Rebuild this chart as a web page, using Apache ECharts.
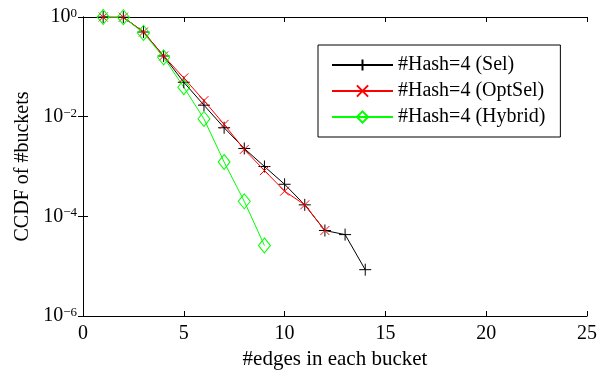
<!DOCTYPE html>
<html><head><meta charset="utf-8">
<script src="https://cdn.jsdelivr.net/npm/echarts@6/dist/echarts.min.js"></script>
<style>html,body{margin:0;padding:0;background:#fff}#c{width:600px;height:375px}</style>
</head><body><div id="c"></div>
<script>
const seriesNames = ['#Hash=4 (Sel)', '#Hash=4 (OptSel)', '#Hash=4 (Hybrid)'];
const xSel = [1,2,3,4,5,6,7,8,9,10,11,12,13,14];
const ySel = [1,0.99,0.5,0.165,0.049,0.017,0.006,0.0023,0.001,0.00044,0.00017,5.2e-5,4.3e-5,8.5e-6];
const xOpt = [1,2,3,4,5,6,7,8,9,10,11,12];
const yOpt = [1,0.99,0.5,0.165,0.06,0.021,0.007,0.0022,0.00083,0.00032,0.00017,5.2e-5];
const xHyb = [1,2,3,4,5,6,7,8,9];
const yHyb = [1,0.99,0.48,0.155,0.039,0.009,0.00123,0.0002,2.6e-5];
const xTicks = [0,5,10,15,20,25];
const yTicks = [1e-6,1e-4,1e-2,1];

const FONT = 'Liberation Serif';
const pair = (xs, ys) => xs.map((x, i) => [x, ys[i]]);
const PLUS = 'path://M0,5L10,5M5,0L5,10';
const CROSS = 'path://M0,0L10,10M10,0L0,10';

const chart = echarts.init(document.getElementById('c'));
const axisCommon = {
  axisLine: {show: true, lineStyle: {color: '#000', width: 1}},
  axisTick: {show: true, inside: true, length: 5, lineStyle: {color: '#000'}},
  splitLine: {show: false}
};
chart.setOption({
  animation: false,
  backgroundColor: '#fff',
  grid: {left: 83, right: 9, top: 17, bottom: 55, containLabel: false},
  legend: {
    orient: 'vertical', left: 318, top: 45,
    padding: [10, 15, 10, 13],
    borderColor: '#000', borderWidth: 1, backgroundColor: '#fff',
    itemWidth: 61, itemHeight: 14, itemGap: 6,
    selectedMode: false,
    textStyle: {fontFamily: FONT, fontSize: 20, color: '#000', lineHeight: 20},
    data: seriesNames
  },
  xAxis: [
    Object.assign({}, axisCommon, {
      type: 'value', min: 0, max: 25, interval: 5, position: 'bottom',
      name: '#edges in each bucket', nameLocation: 'middle', nameGap: 33,
      nameTextStyle: {fontFamily: FONT, fontSize: 21, color: '#000'},
      axisLabel: {fontFamily: FONT, fontSize: 20, color: '#000', margin: 8,
        formatter: v => xTicks.includes(v) ? String(v) : ''}
    }),
    Object.assign({}, axisCommon, {
      type: 'value', min: 0, max: 25, interval: 5, position: 'top',
      axisLabel: {show: false}
    })
  ],
  yAxis: [
    Object.assign({}, axisCommon, {
      type: 'log', logBase: 100, min: yTicks[0], max: yTicks[yTicks.length - 1], position: 'left',
      name: 'CCDF of #buckets', nameLocation: 'middle', nameGap: 50,
      nameTextStyle: {fontFamily: FONT, fontSize: 20, color: '#000'},
      axisLabel: {
        margin: 6, color: '#000',
        formatter: v => {
          const e = Math.round(Math.log10(v));
          return '{b|10}{s|' + (e < 0 ? '\u2212' + (-e) : e) + '}';
        },
        rich: {
          b: {fontFamily: FONT, fontSize: 20, lineHeight: 20, color: '#000', verticalAlign: 'middle', padding: [5, 0, 5, 0]},
          s: {fontFamily: FONT, fontSize: 13, lineHeight: 13, color: '#000', verticalAlign: 'top'}
        }
      }
    }),
    Object.assign({}, axisCommon, {
      type: 'log', logBase: 100, min: yTicks[0], max: yTicks[yTicks.length - 1], position: 'right',
      axisLabel: {show: false}
    })
  ],
  series: [
    {
      name: seriesNames[0], type: 'line', data: pair(xSel, ySel),
      symbol: PLUS, symbolSize: 12, showAllSymbol: true,
      lineStyle: {color: '#000', width: 1},
      itemStyle: {color: '#000', borderColor: '#000', borderWidth: 1}
    },
    {
      name: seriesNames[1], type: 'line', data: pair(xOpt, yOpt),
      symbol: CROSS, symbolSize: 9, showAllSymbol: true,
      lineStyle: {color: '#ff0000', width: 1},
      itemStyle: {color: '#ff0000', borderColor: '#ff0000', borderWidth: 1}
    },
    {
      name: seriesNames[2], type: 'line', data: pair(xHyb, yHyb),
      symbol: 'diamond', symbolSize: [12, 15], showAllSymbol: true,
      lineStyle: {color: '#00ff00', width: 1},
      itemStyle: {color: 'none', borderColor: '#00ff00', borderWidth: 1}
    }
  ]
});
</script>
</body></html>
